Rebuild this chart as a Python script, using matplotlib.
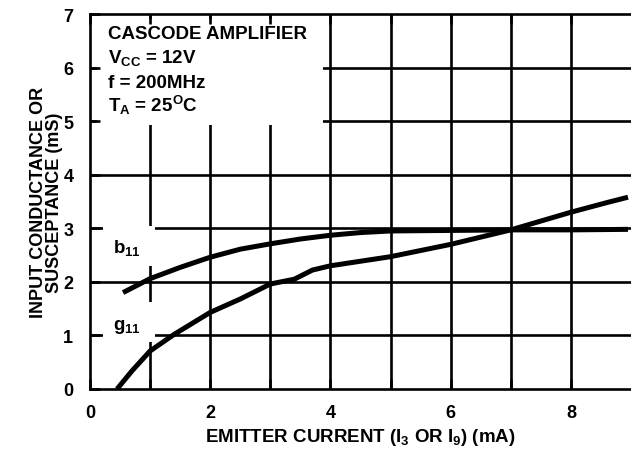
import matplotlib
matplotlib.use("Agg")
import matplotlib.pyplot as plt
from matplotlib.patches import Rectangle

plt.rcParams['font.family'] = ['Liberation Sans', 'DejaVu Sans']
plt.rcParams['font.weight'] = 'bold'
plt.rcParams['mathtext.fontset'] = 'custom'
plt.rcParams['mathtext.rm'] = 'Liberation Sans:bold'
plt.rcParams['mathtext.it'] = 'Liberation Sans:bold'
plt.rcParams['mathtext.bf'] = 'Liberation Sans:bold'

# emitter current (mA) vs input admittance (mS)
b11_x = [0.55, 1.0, 1.5, 2.0, 2.5, 3.0, 3.5, 4.0, 4.5, 5.0, 6.0, 7.0, 8.0, 8.95]
b11_y = [1.80, 2.06, 2.27, 2.46, 2.61, 2.71, 2.80, 2.87, 2.92, 2.95, 2.96, 2.97, 2.97, 2.98]

g11_x = [0.45, 0.7, 1.0, 1.4, 2.0, 2.5, 3.0, 3.4, 3.7, 4.0, 5.0, 6.0, 7.0, 8.0, 8.6, 8.95]
g11_y = [0.0, 0.34, 0.71, 1.02, 1.43, 1.68, 1.96, 2.05, 2.22, 2.30, 2.47, 2.70, 2.97, 3.30, 3.48, 3.58]

x_major = [0, 2, 4, 6, 8]
x_minor = [1, 3, 5, 7]
y_ticks = [0, 1, 2, 3, 4, 5, 6, 7]
x_grid = [1, 2, 3, 4, 5, 6, 7, 8]
y_grid = [1, 2, 3, 4, 5, 6]

conditions = [
    "CASCODE AMPLIFIER",
    "V$_{CC}$ = 12V",
    "f = 200MHz",
    "T$_{A}$ = 25$^{O}$C",
]

W, H = 631, 456
fig = plt.figure(figsize=(W / 100, H / 100), dpi=100)
ax = fig.add_axes([90 / W, 66 / H, 541 / W, 375 / H])
ax.set_xlim(0, 9)
ax.set_ylim(0, 7)

grid_kw = dict(color='black', lw=1.9, zorder=1)
ax.vlines(x_grid, 0, 7, **grid_kw)
ax.hlines(y_grid, 0, 9, **grid_kw)

# white areas behind the notes
ax.add_patch(Rectangle((0.12, 4.93), 3.75, 1.98, facecolor='white', edgecolor='none', zorder=1.5))
ax.add_patch(Rectangle((0.22, 2.30), 0.86, 0.75, facecolor='white', edgecolor='none', zorder=1.5))
ax.add_patch(Rectangle((0.22, 0.88), 0.86, 0.74, facecolor='white', edgecolor='none', zorder=1.5))

ax.plot(b11_x, b11_y, color='black', lw=3.6, solid_capstyle='butt', zorder=4)
ax.plot(g11_x, g11_y, color='black', lw=3.6, solid_capstyle='butt', zorder=4)

ax.text(0.38, 2.56, "b$_{11}$", fontsize=13.5, fontweight='bold', va='baseline', zorder=5)
ax.text(0.38, 1.12, "g$_{11}$", fontsize=13.5, fontweight='bold', va='baseline', zorder=5)

for i, line in enumerate(conditions):
    ax.text(0.3, 6.55 - 0.455 * i, line, fontsize=13.5, fontweight='bold', va='baseline', zorder=5)

ax.set_xticks(x_major)
ax.set_xticks(x_minor, minor=True)
ax.set_yticks(y_ticks)
ax.tick_params(which='both', direction='in', length=7, width=1.9, top=True, right=False,
               labelsize=13, color='black')
ax.tick_params(axis='x', pad=11)
ax.tick_params(axis='y', pad=12)
for lab in ax.get_xticklabels() + ax.get_yticklabels():
    lab.set_fontweight('bold')

for side in ['left', 'top', 'bottom']:
    ax.spines[side].set_linewidth(1.9)
ax.spines['right'].set_visible(False)

ax.set_xlabel("EMITTER CURRENT (I$_{3}$ OR I$_{9}$) (mA)", fontsize=13.5, fontweight='bold')
ax.xaxis.set_label_coords(0.5, -0.100)
ax.xaxis.label.set_va('top')
ax.set_ylabel("INPUT CONDUCTANCE OR\nSUSCEPTANCE (mS)", fontsize=13, fontweight='bold', linespacing=0.9)
ax.yaxis.set_label_coords(-0.05, 0.5)

fig.savefig("out.png", dpi=100)
